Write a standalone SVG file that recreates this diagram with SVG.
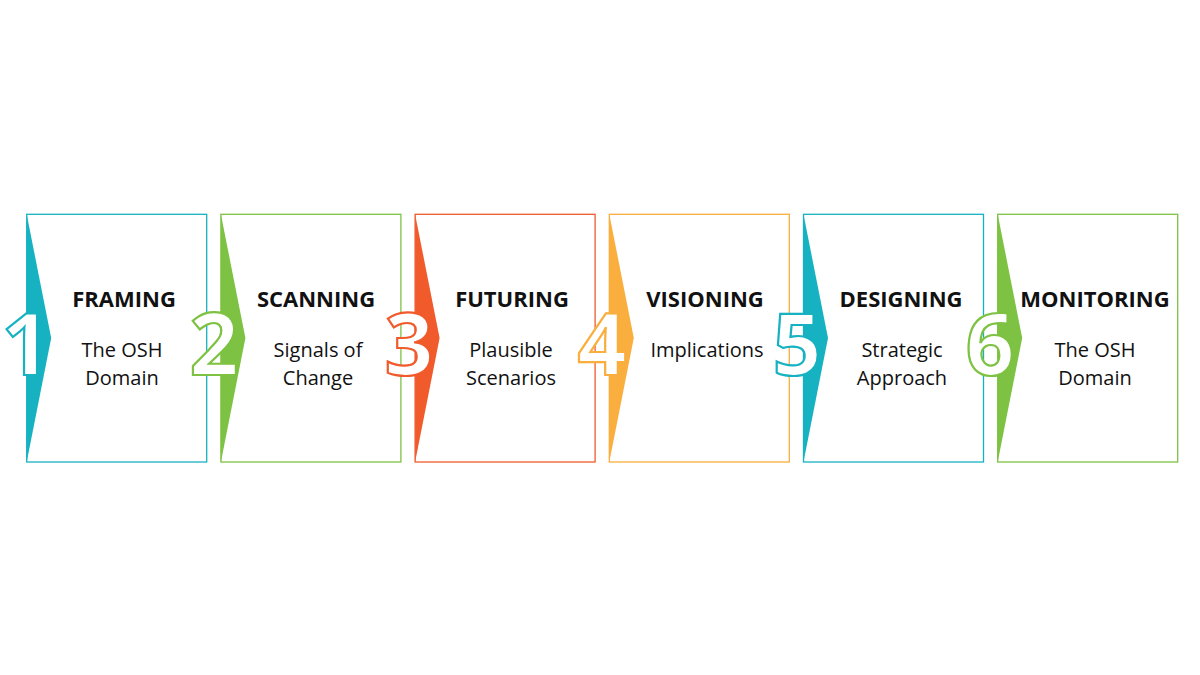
<svg xmlns="http://www.w3.org/2000/svg" width="1200" height="675" viewBox="0 0 1200 675">
<style>
.box{fill:#fff;stroke-width:1.3}
.title{font-family:"Open Sans","Liberation Sans",sans-serif;font-weight:bold;font-size:22px;fill:#111;text-anchor:middle}
.sub{font-family:"Open Sans","Liberation Sans",sans-serif;font-size:20px;fill:#111;text-anchor:middle}
.num{font-family:"Open Sans","Liberation Sans",sans-serif;font-weight:bold;font-size:86px;fill:#fff;stroke-width:2.2;text-anchor:middle}
.teal{stroke:#17b2c1}.green{stroke:#7dc242}.red{stroke:#f15a2b}.orange{stroke:#f9ae3e}
.fteal{fill:#17b2c1}.fgreen{fill:#7dc242}.fred{fill:#f15a2b}.forange{fill:#f9ae3e}
</style>
<rect width="1200" height="675" fill="#fff"/>
<g id="step1">
<rect class="box teal" x="26.7" y="214.3" width="180" height="247.7"/>
<polygon class="fteal" points="26.7,214.3 51.2,338 26.7,462"/>
<text class="title" x="124" y="307">FRAMING</text>
<text class="sub" x="122" y="357">The OSH</text>
<text class="sub" x="122" y="385">Domain</text>
</g>
<g id="step2">
<rect class="box green" x="220.9" y="214.3" width="180" height="247.7"/>
<polygon class="fgreen" points="220.9,214.3 245.4,338 220.9,462"/>
<text class="title" x="316" y="307">SCANNING</text>
<text class="sub" x="318" y="357">Signals of</text>
<text class="sub" x="318" y="385">Change</text>
</g>
<g id="step3">
<rect class="box red" x="415.1" y="214.3" width="180" height="247.7"/>
<polygon class="fred" points="415.1,214.3 439.6,338 415.1,462"/>
<text class="title" x="512" y="307">FUTURING</text>
<text class="sub" x="511" y="357">Plausible</text>
<text class="sub" x="511" y="385">Scenarios</text>
</g>
<g id="step4">
<rect class="box orange" x="609.3" y="214.3" width="180" height="247.7"/>
<polygon class="forange" points="609.3,214.3 633.8,338 609.3,462"/>
<text class="title" x="705" y="307">VISIONING</text>
<text class="sub" x="707" y="357">Implications</text>
</g>
<g id="step5">
<rect class="box teal" x="803.5" y="214.3" width="180" height="247.7"/>
<polygon class="fteal" points="803.5,214.3 828,338 803.5,462"/>
<text class="title" x="901" y="307">DESIGNING</text>
<text class="sub" x="902" y="357">Strategic</text>
<text class="sub" x="902" y="385">Approach</text>
</g>
<g id="step6">
<rect class="box green" x="997.7" y="214.3" width="180" height="247.7"/>
<polygon class="fgreen" points="997.7,214.3 1022.2,338 997.7,462"/>
<text class="title" x="1095" y="307">MONITORING</text>
<text class="sub" x="1095" y="357">The OSH</text>
<text class="sub" x="1095" y="385">Domain</text>
</g>
<g id="numbers">
<text class="num teal" x="26" y="375">1</text>
<text class="num green" x="214" y="375">2</text>
<text class="num red" x="409" y="375">3</text>
<text class="num orange" x="602" y="375">4</text>
<text class="num teal" x="797" y="375">5</text>
<text class="num green" x="990" y="375">6</text>
</g>
<g id="connectors"></g>
</svg>
